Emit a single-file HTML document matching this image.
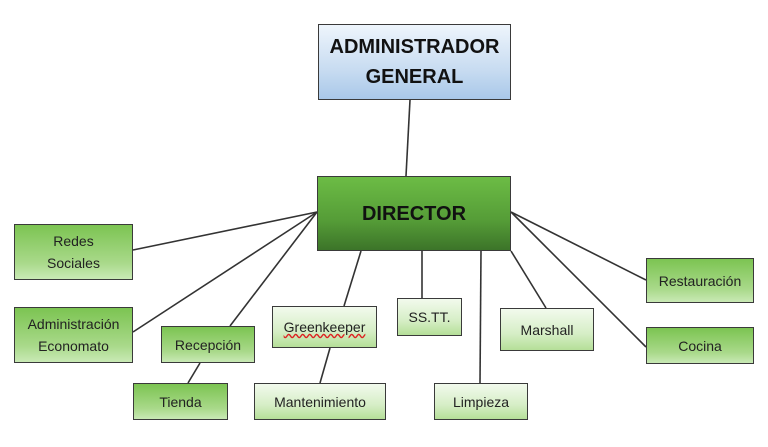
<!DOCTYPE html>
<html><head><meta charset="utf-8"><style>
body{margin:0;width:768px;height:447px;background:#fff;position:relative;overflow:hidden;font-family:"Liberation Sans",sans-serif}
.b{position:absolute;box-sizing:border-box;border:1.5px solid #3a3a3a;display:flex;align-items:center;justify-content:center;text-align:center;font-size:14px;color:#222;line-height:22px}
.d{background:linear-gradient(#7cc452,#a9d98a 70%,#c9e9b5)}
.l{background:linear-gradient(#f2faed,#d6eec6 60%,#b5df98)}
svg{position:absolute;left:0;top:0}
</style></head><body>
<svg width="768" height="447"><g stroke="#333" stroke-width="1.6">
<line x1="410" y1="100" x2="406" y2="176"/>
<line x1="317" y1="212" x2="133" y2="250"/>
<line x1="317" y1="212" x2="133" y2="332"/>
<line x1="317" y1="212" x2="230" y2="326"/>
<line x1="361" y1="251" x2="344" y2="306"/>
<line x1="330" y1="348" x2="320" y2="383"/>
<line x1="200" y1="363" x2="188" y2="383"/>
<line x1="422" y1="251" x2="422" y2="298"/>
<line x1="481" y1="251" x2="480" y2="383"/>
<line x1="511" y1="251" x2="546" y2="308"/>
<line x1="511" y1="212" x2="646" y2="280"/>
<line x1="511" y1="212" x2="646" y2="347"/>
</g></svg>
<div class="b" style="left:318px;top:24px;width:193px;height:76px;background:linear-gradient(#eef5fc,#c8dcf1 60%,#a9c8e9);font-weight:bold;font-size:20px;line-height:30px;color:#111">ADMINISTRADOR<br>GENERAL</div>
<div class="b" style="left:317px;top:176px;width:194px;height:75px;background:linear-gradient(#6cbc45,#559c37 60%,#3c7429);font-weight:bold;font-size:20px;color:#111">DIRECTOR</div>
<div class="b d" style="left:14px;top:224px;width:119px;height:56px">Redes<br>Sociales</div>
<div class="b d" style="left:14px;top:307px;width:119px;height:56px">Administración<br>Economato</div>
<div class="b d" style="left:161px;top:326px;width:94px;height:37px">Recepción</div>
<div class="b d" style="left:133px;top:383px;width:95px;height:37px">Tienda</div>
<div class="b l" style="left:272px;top:306px;width:105px;height:42px"><span style="text-decoration:underline wavy #d22">Greenkeeper</span></div>
<div class="b l" style="left:254px;top:383px;width:132px;height:37px">Mantenimiento</div>
<div class="b l" style="left:397px;top:298px;width:65px;height:38px">SS.TT.</div>
<div class="b l" style="left:500px;top:308px;width:94px;height:43px">Marshall</div>
<div class="b l" style="left:434px;top:383px;width:94px;height:37px">Limpieza</div>
<div class="b d" style="left:646px;top:258px;width:108px;height:45px">Restauración</div>
<div class="b d" style="left:646px;top:327px;width:108px;height:37px">Cocina</div>
</body></html>
